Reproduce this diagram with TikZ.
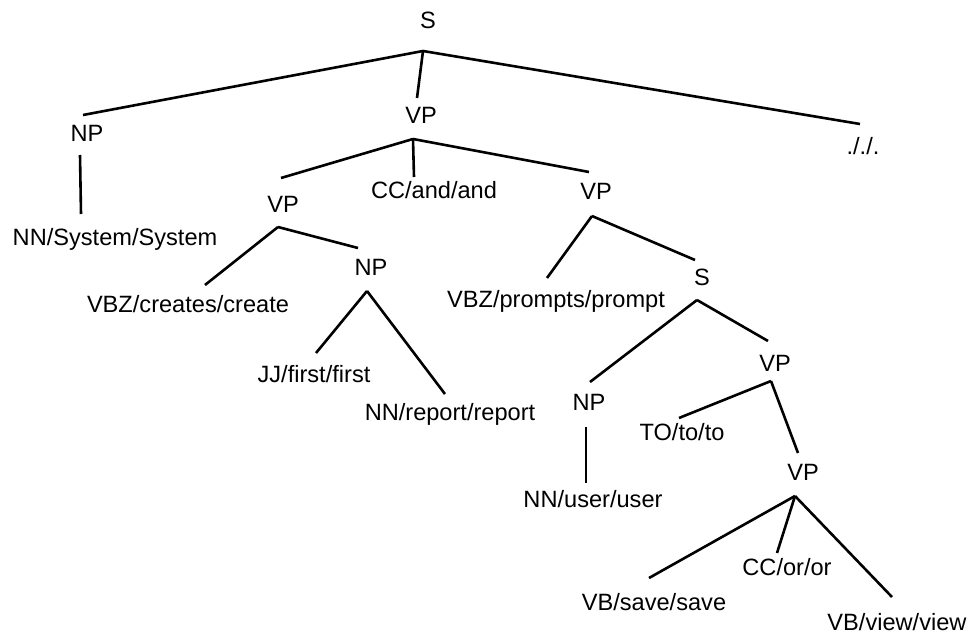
\documentclass[tikz,border=0pt]{standalone}
\usepackage{fontspec}
\setmainfont{Liberation Sans}
\begin{document}
\begin{tikzpicture}[x=1pt,y=-1pt,
  lbl/.style={anchor=base,inner sep=0pt,font=\fontsize{23.6}{28}\selectfont},
  edge/.style={line width=2.6pt,line cap=butt}]
\useasboundingbox (0,0) rectangle (970,634);
% labels
\node[lbl] (s)     at (428,29)  {S};
\node[lbl] (np)    at (87,142)  {NP};
\node[lbl] (vp)    at (421,123) {VP};
\node[lbl] (dot)   at (863,154) {././.};
\node[lbl] (nnsys) at (115,245) {NN/System/System};
\node[lbl] (vpa)   at (283,212) {VP};
\node[lbl] (ccand) at (434,198) {CC/and/and};
\node[lbl] (vpb)   at (596,199) {VP};
\node[lbl] (vbzc)  at (188,312) {VBZ/creates/create};
\node[lbl] (npa)   at (371,275) {NP};
\node[lbl] (vbzp)  at (556,307) {VBZ/prompts/prompt};
\node[lbl] (sb)    at (702,285) {S};
\node[lbl] (jj)    at (314,382) {JJ/first/first};
\node[lbl] (nnrep) at (450,420) {NN/report/report};
\node[lbl] (npb)   at (589,410) {NP};
\node[lbl] (vpc)   at (775,371) {VP};
\node[lbl] (nnuser) at (593,507) {NN/user/user};
\node[lbl] (to)    at (682,440) {TO/to/to};
\node[lbl] (vpd)   at (803,480) {VP};
\node[lbl] (ccor)  at (787,575) {CC/or/or};
\node[lbl] (vbsave) at (654,610) {VB/save/save};
\node[lbl] (vbview) at (897,630) {VB/view/view};
% branch points
\coordinate (s-b)   at (423,51);
\coordinate (np-b)  at (80,155);
\coordinate (vp-b)  at (413,139);
\coordinate (vpa-b) at (278,227);
\coordinate (vpb-b) at (592,216);
\coordinate (npa-b) at (367,291);
\coordinate (sb-b)  at (697,300);
\coordinate (npb-b) at (586,427);
\coordinate (vpc-b) at (771,381);
\coordinate (vpd-b) at (795,496);
% child tops
\coordinate (np-t)    at (83,115);
\coordinate (vp-t)    at (417,98);
\coordinate (dot-t)   at (860,124);
\coordinate (nnsys-t) at (81,214);
\coordinate (vpa-t)   at (281,178);
\coordinate (ccand-t) at (414,177);
\coordinate (vpb-t)   at (589,172);
\coordinate (vbzc-t)  at (205,285);
\coordinate (npa-t)   at (358,248);
\coordinate (vbzp-t)  at (547,278);
\coordinate (sb-t)    at (695,260);
\coordinate (jj-t)    at (316,353);
\coordinate (nnrep-t) at (445,394);
\coordinate (npb-t)   at (590,382);
\coordinate (vpc-t)   at (768,341);
\coordinate (nnuser-t) at (586,483);
\coordinate (to-t)    at (679,418);
\coordinate (vpd-t)   at (798,453);
\coordinate (vbsave-t) at (649,578);
\coordinate (ccor-t)  at (777,553);
\coordinate (vbview-t) at (892,597);
% edges
\draw[edge] (s-b) -- (np-t);
\draw[edge] (s-b) -- (vp-t);
\draw[edge] (s-b) -- (dot-t);
\draw[edge] (np-b) -- (nnsys-t);
\draw[edge] (vp-b) -- (vpa-t);
\draw[edge] (vp-b) -- (ccand-t);
\draw[edge] (vp-b) -- (vpb-t);
\draw[edge] (vpa-b) -- (vbzc-t);
\draw[edge] (vpa-b) -- (npa-t);
\draw[edge] (npa-b) -- (jj-t);
\draw[edge] (npa-b) -- (nnrep-t);
\draw[edge] (vpb-b) -- (vbzp-t);
\draw[edge] (vpb-b) -- (sb-t);
\draw[edge] (sb-b) -- (npb-t);
\draw[edge] (sb-b) -- (vpc-t);
\draw[edge] (npb-b) -- (nnuser-t);
\draw[edge] (vpc-b) -- (to-t);
\draw[edge] (vpc-b) -- (vpd-t);
\draw[edge] (vpd-b) -- (vbsave-t);
\draw[edge] (vpd-b) -- (ccor-t);
\draw[edge] (vpd-b) -- (vbview-t);
\end{tikzpicture}
\end{document}
